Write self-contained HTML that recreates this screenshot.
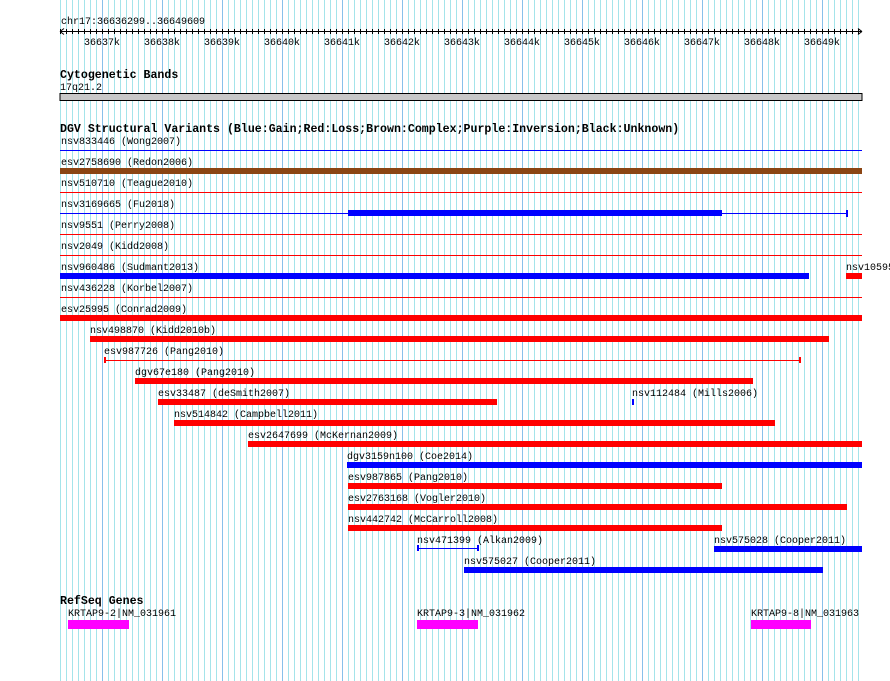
<!DOCTYPE html>
<html><head><style>
html,body{margin:0;padding:0;background:#fff;}
svg{display:block;}
text{font-family:"Liberation Mono",monospace;font-size:10px;fill:#000;}
.b{font-weight:bold;font-size:11.6px;}
</style></head><body>
<svg width="890" height="681" xmlns="http://www.w3.org/2000/svg">
<defs>
<pattern id="g1" x="60" y="0" width="6" height="681" patternUnits="userSpaceOnUse"><rect x="0" y="0" width="1" height="681" fill="#a4e4ea"/></pattern>
<pattern id="g2" x="102" y="0" width="60" height="681" patternUnits="userSpaceOnUse"><rect x="0" y="0" width="1" height="681" fill="#88c0ea"/></pattern>
<pattern id="tk" x="60" y="0" width="6" height="10" patternUnits="userSpaceOnUse"><rect x="0" y="0" width="1" height="10" fill="#000"/></pattern>
</defs>
<rect x="60" y="0" width="801" height="681" fill="url(#g1)"/>
<rect x="60" y="0" width="801" height="681" fill="url(#g2)"/>
<!-- ruler -->
<text x="61" y="24">chr17:36636299..36649609</text>
<rect x="60" y="31" width="802" height="1" fill="#000"/>
<rect x="60" y="29" width="802" height="5" fill="url(#tk)"/>
<path d="M60,31.5 L64,28.5 M60,31.5 L64,34.5 M862,31.5 L858,28.5 M862,31.5 L858,34.5" stroke="#000" stroke-width="1" fill="none"/>
<g text-anchor="middle">
<text x="102" y="45">36637k</text><text x="162" y="45">36638k</text><text x="222" y="45">36639k</text><text x="282" y="45">36640k</text><text x="342" y="45">36641k</text><text x="402" y="45">36642k</text><text x="462" y="45">36643k</text><text x="522" y="45">36644k</text><text x="582" y="45">36645k</text><text x="642" y="45">36646k</text><text x="702" y="45">36647k</text><text x="762" y="45">36648k</text><text x="822" y="45">36649k</text>
</g>
<!-- cyto -->
<text class="b" x="60" y="78">Cytogenetic Bands</text>
<text x="60" y="90">17q21.2</text>
<rect x="60" y="93.5" width="802" height="7" fill="#c8c8c8" stroke="#000" stroke-width="1"/>
<!-- DGV -->
<text class="b" x="60" y="132">DGV Structural Variants (Blue:Gain;Red:Loss;Brown:Complex;Purple:Inversion;Black:Unknown)</text>
<g>
<text x="61" y="144">nsv833446 (Wong2007)</text>
<rect x="60" y="150" width="802" height="1" fill="#0000ff"/>
<text x="61" y="165">esv2758690 (Redon2006)</text>
<rect x="60" y="168" width="802" height="6" fill="#8b4513"/>
<text x="61" y="186">nsv510710 (Teague2010)</text>
<rect x="60" y="192" width="802" height="1" fill="#ff0000"/>
<text x="61" y="207">nsv3169665 (Fu2018)</text>
<rect x="60" y="213" width="788" height="1" fill="#0000ff"/>
<rect x="348" y="210" width="374" height="6" fill="#0000ff"/>
<rect x="846" y="210" width="2" height="7" fill="#0000ff"/>
<text x="61" y="228">nsv9551 (Perry2008)</text>
<rect x="60" y="234" width="802" height="1" fill="#ff0000"/>
<text x="61" y="249">nsv2049 (Kidd2008)</text>
<rect x="60" y="255" width="802" height="1" fill="#ff0000"/>
<text x="61" y="270">nsv960486 (Sudmant2013)</text>
<rect x="60" y="273" width="749" height="6" fill="#0000ff"/>
<text x="846" y="270">nsv10595</text>
<rect x="846" y="273" width="16" height="6" fill="#ff0000"/>
<text x="61" y="291">nsv436228 (Korbel2007)</text>
<rect x="60" y="297" width="802" height="1" fill="#ff0000"/>
<text x="61" y="312">esv25995 (Conrad2009)</text>
<rect x="60" y="315" width="802" height="6" fill="#ff0000"/>
<text x="90" y="333">nsv498870 (Kidd2010b)</text>
<rect x="90" y="336" width="739" height="6" fill="#ff0000"/>
<text x="104" y="354">esv987726 (Pang2010)</text>
<rect x="104" y="360" width="697" height="1" fill="#ff0000"/>
<rect x="104" y="357" width="2" height="6" fill="#ff0000"/>
<rect x="799" y="357" width="2" height="6" fill="#ff0000"/>
<text x="135" y="375">dgv67e180 (Pang2010)</text>
<rect x="135" y="378" width="618" height="6" fill="#ff0000"/>
<text x="158" y="396">esv33487 (deSmith2007)</text>
<rect x="158" y="399" width="339" height="6" fill="#ff0000"/>
<text x="632" y="396">nsv112484 (Mills2006)</text>
<rect x="632" y="399" width="2" height="6" fill="#0000ff"/>
<text x="174" y="417">nsv514842 (Campbell2011)</text>
<rect x="174" y="420" width="601" height="6" fill="#ff0000"/>
<text x="248" y="438">esv2647699 (McKernan2009)</text>
<rect x="248" y="441" width="614" height="6" fill="#ff0000"/>
<text x="347" y="459">dgv3159n100 (Coe2014)</text>
<rect x="347" y="462" width="515" height="6" fill="#0000ff"/>
<text x="348" y="480">esv987865 (Pang2010)</text>
<rect x="348" y="483" width="374" height="6" fill="#ff0000"/>
<text x="348" y="501">esv2763168 (Vogler2010)</text>
<rect x="348" y="504" width="499" height="6" fill="#ff0000"/>
<text x="348" y="522">nsv442742 (McCarroll2008)</text>
<rect x="348" y="525" width="374" height="6" fill="#ff0000"/>
<text x="417" y="543">nsv471399 (Alkan2009)</text>
<rect x="417" y="548" width="61" height="1" fill="#0000ff"/>
<rect x="417" y="545" width="2" height="6" fill="#0000ff"/>
<rect x="477" y="545" width="2" height="6" fill="#0000ff"/>
<text x="714" y="543">nsv575028 (Cooper2011)</text>
<rect x="714" y="546" width="148" height="6" fill="#0000ff"/>
<text x="464" y="564">nsv575027 (Cooper2011)</text>
<rect x="464" y="567" width="359" height="6" fill="#0000ff"/>
</g>
<!-- RefSeq -->
<text class="b" x="60" y="604">RefSeq Genes</text>
<text x="68" y="616">KRTAP9-2|NM_031961</text>
<rect x="68" y="620" width="61" height="9" fill="#ff00ff"/>
<text x="417" y="616">KRTAP9-3|NM_031962</text>
<rect x="417" y="620" width="61" height="9" fill="#ff00ff"/>
<text x="751" y="616">KRTAP9-8|NM_031963</text>
<rect x="751" y="620" width="60" height="9" fill="#ff00ff"/>
</svg>
</body></html>
